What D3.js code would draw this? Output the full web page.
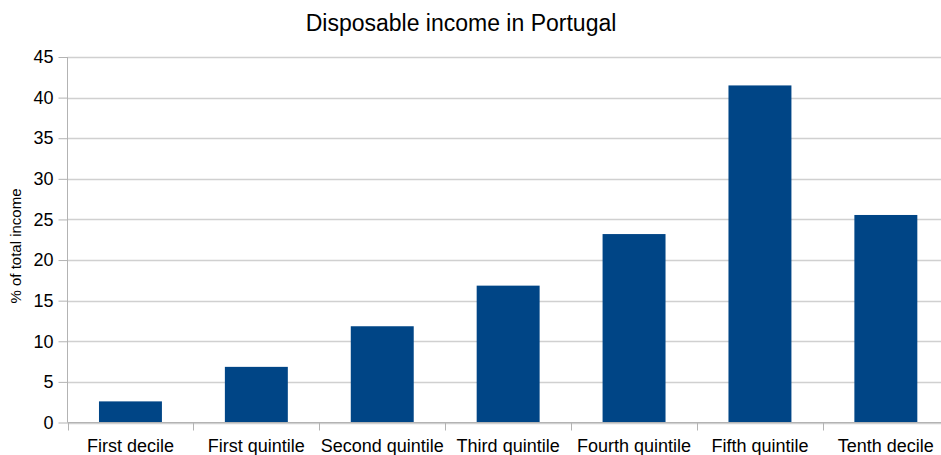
<!DOCTYPE html>
<html><head><meta charset="utf-8">
<script src="https://cdn.jsdelivr.net/npm/d3@7"></script>
<style>
html,body{margin:0;padding:0;background:#fff;}
svg{display:block;font-family:"Liberation Sans",Arial,sans-serif;}
</style></head>
<body>
<svg id="chart" width="941" height="455"></svg>
<script>
const categories = ["First decile","First quintile","Second quintile","Third quintile","Fourth quintile","Fifth quintile","Tenth decile"];
const values = [2.6, 6.85, 11.85, 16.85, 23.2, 41.5, 25.55];
const yTicks = [0,5,10,15,20,25,30,35,40,45];
const title = "Disposable income in Portugal";
const yLabel = "% of total income";

const svg = d3.select("#chart");
const x = d3.scaleBand().domain(categories).range([67.5, 948.8]).paddingInner(0.5).paddingOuter(0.25);
const y = d3.scaleLinear().domain([0,45]).range([422.5, 57]);

// gridlines
svg.append("g").selectAll("line").data(yTicks).join("line")
  .attr("x1", 67.5).attr("x2", 941)
  .attr("y1", d=>Math.round(y(d))+0.5).attr("y2", d=>Math.round(y(d))+0.5)
  .attr("stroke", "#d0d0d0").attr("stroke-width", 1.3);

// bars
svg.append("g").selectAll("rect").data(values).join("rect")
  .attr("x", (d,i)=>x(categories[i]))
  .attr("width", x.bandwidth())
  .attr("y", d=>y(d))
  .attr("height", d=>y(0)-y(d))
  .attr("fill", "#004586");

// y axis
const yAxis = d3.axisLeft(y).tickValues(yTicks).tickSize(9).tickPadding(5);
const gy = svg.append("g").attr("transform", "translate(67.5,0)").call(yAxis);
gy.select(".domain").attr("stroke", "#b3b3b3").attr("d", `M0,${y(45)}V${y(0)}`);
gy.selectAll(".tick line").attr("stroke", "#b3b3b3");
gy.selectAll(".tick text").attr("font-size", 18).attr("fill", "#000").attr("font-family", "Liberation Sans, Arial, sans-serif");

// x axis
const gx = svg.append("g").attr("transform", `translate(0,${y(0)})`)
  .call(d3.axisBottom(x).tickSize(0).tickPadding(0));
gx.select(".domain").attr("stroke", "#b3b3b3").attr("d", "M67.5,0H941");
gx.selectAll(".tick text").attr("font-size", 18).attr("fill", "#000").attr("y", 17).attr("dy", "0.71em")
  .attr("font-family", "Liberation Sans, Arial, sans-serif");
// band boundary ticks
const step = x.step();
const bounds = categories.map((c,i)=> x(c) - x.bandwidth()/2 ).concat([]);
const boundaries = d3.range(categories.length + 1).map(i => x.range()[0] + i*step);
gx.append("g").selectAll("line").data(boundaries).join("line")
  .attr("x1", d=>Math.round(d)+0.5).attr("x2", d=>Math.round(d)+0.5)
  .attr("y1", 0).attr("y2", 8).attr("stroke", "#b3b3b3");

// title
svg.append("text").attr("x", 461).attr("y", 31).attr("text-anchor", "middle")
  .attr("font-size", 23).attr("fill", "#000").text(title);

// y label
svg.append("text").attr("transform", "translate(21,246) rotate(-90)")
  .attr("text-anchor", "middle").attr("font-size", 15).attr("fill", "#000").text(yLabel);
</script>
</body></html>
